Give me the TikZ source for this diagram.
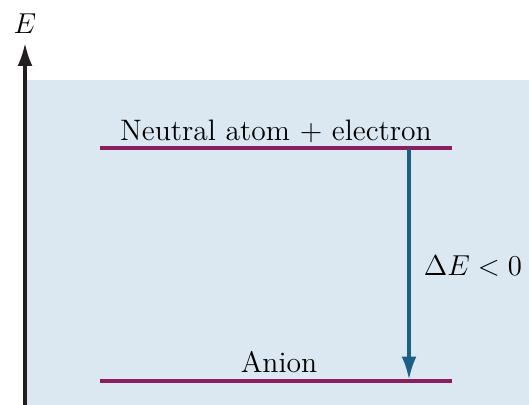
\documentclass[tikz,border=0pt]{standalone}
\usetikzlibrary{arrows.meta}
\definecolor{panelColor}{HTML}{DCE8F1}
\definecolor{levelColor}{HTML}{8C1D5E}
\definecolor{shiftColor}{HTML}{1C5F84}
\definecolor{axisColor}{HTML}{231F20}
\begin{document}
\begin{tikzpicture}[
			x=0.5pt, y=-0.5pt,
			level/.style={draw=levelColor, line width=1.7pt},
			lbl/.style={font=\fontsize{14.8}{17}\selectfont, inner sep=0pt, anchor=base},
			energyarrow/.style={-{Latex[length=11.5pt,width=7.5pt]}, line width=1.6pt},
			]
			\useasboundingbox (0,0) rectangle (529,405);
			\fill[panelColor] (27,80) rectangle (529,405);
			% energy axis
			\coordinate (ax0) at (25,405);
			\coordinate (ax1) at (25,43);
			\draw[energyarrow, draw=axisColor, fill=axisColor] (ax0) -- (ax1);
			\node[lbl] (elbl) at (25,34) {$E$};
			% levels
			\coordinate (n0) at (100,148);
			\coordinate (n1) at (452,148);
			\coordinate (an0) at (100,381);
			\coordinate (an1) at (452,381);
			\draw[level] (n0) -- (n1);
			\draw[level] (an0) -- (an1);
			\node[lbl] (neutral) at (276,141) {Neutral atom + electron};
			\node[lbl] (anion) at (279,372) {Anion};
			% energy change
			\coordinate (s0) at (409,149.5);
			\coordinate (s1) at (409,379.5);
			\draw[energyarrow, draw=shiftColor, fill=shiftColor] (s0) -- (s1);
			\node[lbl] (delta) at (473,276) {$\Delta E < 0$};
		\end{tikzpicture}
\end{document}
